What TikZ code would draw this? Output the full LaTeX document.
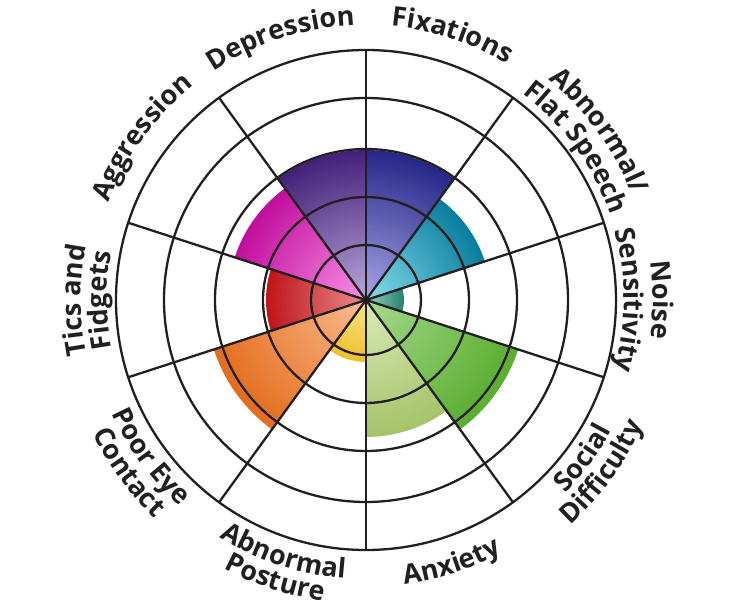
\documentclass[tikz,border=0pt]{standalone}
\usepackage{fontspec}
\setmainfont{Open Sans}
\usetikzlibrary{decorations.text}
\definecolor{ink}{HTML}{231F20}
\definecolor{depI}{HTML}{BBA9DA}\definecolor{depO}{HTML}{44217A}
\definecolor{fixI}{HTML}{A9A8E8}\definecolor{fixO}{HTML}{262788}
\definecolor{speI}{HTML}{88DEEE}\definecolor{speO}{HTML}{0A7E9E}
\definecolor{noiI}{HTML}{9AD8C6}\definecolor{noiO}{HTML}{2A8272}
\definecolor{socI}{HTML}{A8DA8E}\definecolor{socO}{HTML}{5AAE30}
\definecolor{anxI}{HTML}{DCEBBA}\definecolor{anxO}{HTML}{A5C46A}
\definecolor{posI}{HTML}{FAE690}\definecolor{posO}{HTML}{EEC12A}
\definecolor{pooI}{HTML}{FBBC92}\definecolor{pooO}{HTML}{E46E1E}
\definecolor{ticI}{HTML}{EC8C90}\definecolor{ticO}{HTML}{BE151A}
\definecolor{aggI}{HTML}{F893E6}\definecolor{aggO}{HTML}{C20E9E}
\newcommand\labfont{\fontsize{27}{29}\selectfont\bfseries}
\newcommand\wheelTop[3]{\path[decorate,decoration={text along path,text align=center,text color=ink,text={|\labfont|#3}}] (#1+80:#2) arc[start angle=#1+80,end angle=#1-80,radius=#2];}
\newcommand\wheelBot[3]{\path[decorate,decoration={text along path,text align=center,text color=ink,text={|\labfont|#3}}] (#1-80:#2) arc[start angle=#1-80,end angle=#1+80,radius=#2];}
\newcommand\petal[5]{\foreach \i in {50,49,...,1}{\pgfmathsetmacro\pc{100*\i/50}\pgfmathsetmacro\rr{#3*\i/50}
\fill[#5!\pc!#4] (0,0) -- (#1:\rr) arc[start angle=#1,end angle=#2,radius=\rr] -- cycle;}}
\tikzset{grid/.style={draw=ink,line width=2.3pt}}
\begin{document}
\begin{tikzpicture}[x=1pt,y=1pt]
\useasboundingbox (-366,-300) rectangle (366,300);
\coordinate (c) at (0,0);
% coloured sectors
\petal{90}{126}{150}{depI}{depO}
\petal{54}{90}{150}{fixI}{fixO}
\petal{18}{54}{125}{speI}{speO}
\petal{-18}{18}{38}{noiI}{noiO}
\petal{-54}{-18}{160}{socI}{socO}
\petal{-90}{-54}{137}{anxI}{anxO}
\petal{-126}{-90}{62}{posI}{posO}
\petal{-162}{-126}{160}{pooI}{pooO}
\petal{162}{198}{100}{ticI}{ticO}
\petal{126}{162}{138}{aggI}{aggO}
% rings
\foreach \r in {55,103,151,202,250} \path[grid] (c) circle[radius=\r];
% spokes
\foreach \a in {18,54,...,342} \path[grid] (c) -- (\a:250);
% labels
\wheelTop{108}{275}{Depression}
\wheelTop{72}{275}{Fixations}
\wheelTop{144}{275}{Aggression}
\wheelTop{36}{286}{Abnormal/}
\wheelTop{36}{259}{Flat Speech}
\wheelTop{0}{287}{Noise}
\wheelTop{0}{258}{Sensitivity}
\wheelTop{180}{285}{Tics and}
\wheelTop{180}{259}{Fidgets}
\wheelBot{-36}{278}{Social}
\wheelBot{-36}{304}{Difficulty}
\wheelBot{-72}{287}{Anxiety}
\wheelBot{-108}{279}{Abnormal}
\wheelBot{-108}{304}{Posture}
\wheelBot{-144}{278}{Poor Eye}
\wheelBot{-144}{304}{Contact}
\end{tikzpicture}
\end{document}
